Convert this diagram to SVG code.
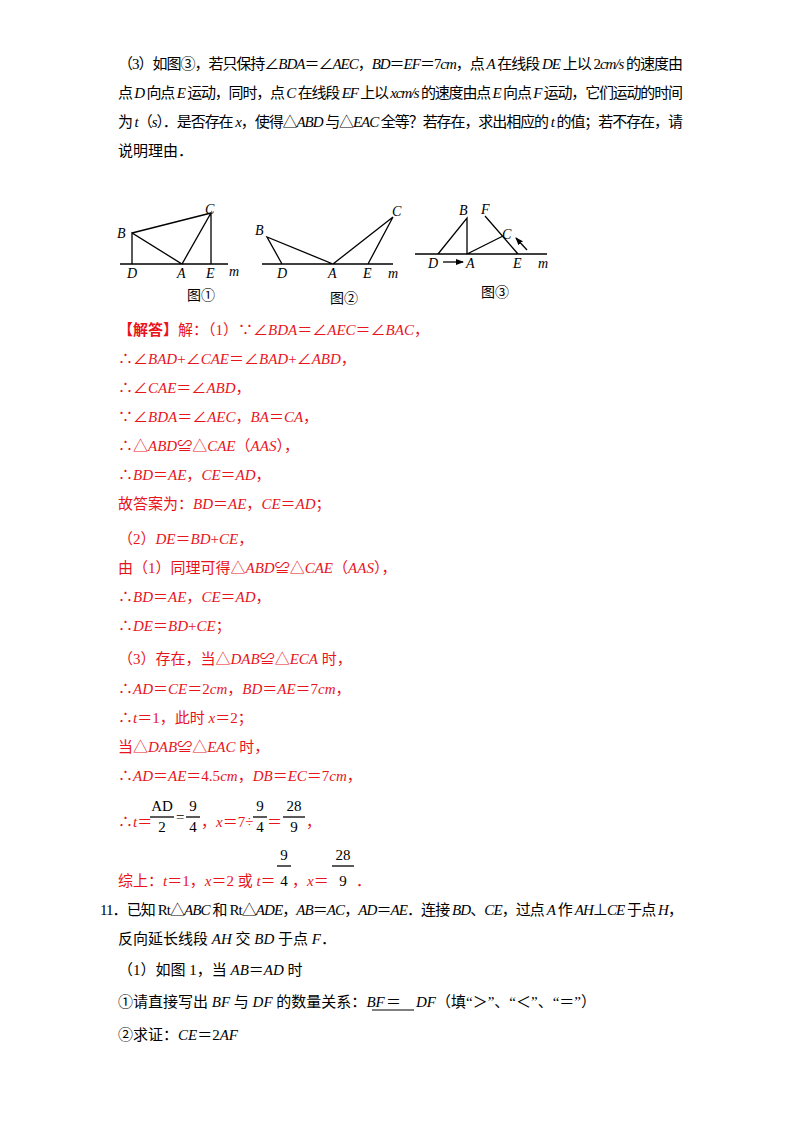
<svg xmlns="http://www.w3.org/2000/svg" width="800" height="1132" viewBox="0 0 800 1132">
<style>
text{font-family:"Liberation Serif","Noto Sans CJK SC",serif;font-size:15px;fill:#000}
.r{fill:#e8141c}
.i{font-style:italic}
.f{font-size:14px}
.l{font-size:14px;font-style:italic}
.ln{stroke:#000;stroke-width:1.3;fill:none}
.fb{stroke:#000;stroke-width:1.3}
</style>
<defs><marker id="ah" markerWidth="8" markerHeight="8" refX="7" refY="4" orient="auto" markerUnits="userSpaceOnUse"><path d="M0,1 L8,4 L0,7 z" fill="#000"/></marker></defs>
<rect width="800" height="1132" fill="#fff"/>
<g id="q3">
<text x="118" y="69" textLength="565" lengthAdjust="spacing">（3）如图③，若只保持∠<tspan class="i">BDA</tspan>＝∠<tspan class="i">AEC</tspan>，<tspan class="i">BD</tspan>＝<tspan class="i">EF</tspan>＝7<tspan class="i">cm</tspan>，点 <tspan class="i">A</tspan> 在线段 <tspan class="i">DE</tspan> 上以 2<tspan class="i">cm/s</tspan> 的速度由</text>
<text x="118" y="98" textLength="565" lengthAdjust="spacing">点 <tspan class="i">D</tspan> 向点 <tspan class="i">E</tspan> 运动，同时，点 <tspan class="i">C</tspan> 在线段 <tspan class="i">EF</tspan> 上以 <tspan class="i">xcm/s</tspan> 的速度由点 <tspan class="i">E</tspan> 向点 <tspan class="i">F</tspan> 运动，它们运动的时间</text>
<text x="118" y="127" textLength="565" lengthAdjust="spacing">为 <tspan class="i">t</tspan>（<tspan class="i">s</tspan>）．是否存在 <tspan class="i">x</tspan>，使得△<tspan class="i">ABD</tspan> 与△<tspan class="i">EAC</tspan> 全等？若存在，求出相应的 <tspan class="i">t</tspan> 的值；若不存在，请</text>
<text x="118" y="156">说明理由．</text>
</g>
<g id="fig1">
<path class="ln" d="M120,264H228 M132,264V233L182,264L211,213V264 M132,233L211,213"/>
<text class="l" x="205" y="214">C</text><text class="l" x="117" y="238">B</text>
<text class="l" x="127" y="278">D</text><text class="l" x="177" y="278">A</text><text class="l" x="206" y="278">E</text><text class="l" x="229" y="276">m</text>
<text class="f" x="187" y="300" fill="#555">图①</text>
</g>
<g id="fig2">
<path class="ln" d="M262,264H393 M282,264L267,237L333,264L393,217L368,264"/>
<text class="l" x="255" y="235">B</text><text class="l" x="392" y="216">C</text>
<text class="l" x="277" y="278">D</text><text class="l" x="328" y="278">A</text><text class="l" x="363" y="278">E</text><text class="l" x="388" y="278">m</text>
<text class="f" x="330" y="303" fill="#555">图②</text>
</g>
<g id="fig3">
<path class="ln" d="M415,254H547 M438,254L467,218V254L503,236 M485,216L518,254"/>
<path class="ln" d="M527,250L516,238" marker-end="url(#ah)"/>
<path class="ln" d="M443,262H463" marker-end="url(#ah)"/>
<text class="l" x="459" y="215">B</text><text class="l" x="481" y="214">F</text><text class="l" x="502" y="239">C</text>
<text class="l" x="428" y="268">D</text><text class="l" x="466" y="268">A</text><text class="l" x="513" y="268">E</text><text class="l" x="538" y="268">m</text>
<text class="f" x="481" y="297" fill="#555">图③</text>
</g>
<g id="answer">
<text class="r" x="118" y="335"><tspan font-weight="bold">【解答】</tspan>解：（1）∵∠<tspan class="i">BDA</tspan>＝∠<tspan class="i">AEC</tspan>＝∠<tspan class="i">BAC</tspan>，</text>
<text class="r" x="118" y="364">∴∠<tspan class="i">BAD</tspan>+∠<tspan class="i">CAE</tspan>＝∠<tspan class="i">BAD</tspan>+∠<tspan class="i">ABD</tspan>，</text>
<text class="r" x="118" y="393">∴∠<tspan class="i">CAE</tspan>＝∠<tspan class="i">ABD</tspan>，</text>
<text class="r" x="118" y="422">∵∠<tspan class="i">BDA</tspan>＝∠<tspan class="i">AEC</tspan>，<tspan class="i">BA</tspan>＝<tspan class="i">CA</tspan>，</text>
<text class="r" x="118" y="451">∴△<tspan class="i">ABD</tspan>≌△<tspan class="i">CAE</tspan>（<tspan class="i">AAS</tspan>），</text>
<text class="r" x="118" y="480">∴<tspan class="i">BD</tspan>＝<tspan class="i">AE</tspan>，<tspan class="i">CE</tspan>＝<tspan class="i">AD</tspan>，</text>
<text class="r" x="118" y="509">故答案为：<tspan class="i">BD</tspan>＝<tspan class="i">AE</tspan>，<tspan class="i">CE</tspan>＝<tspan class="i">AD</tspan>；</text>
<text class="r" x="118" y="544">（2）<tspan class="i">DE</tspan>＝<tspan class="i">BD</tspan>+<tspan class="i">CE</tspan>，</text>
<text class="r" x="118" y="573">由（1）同理可得△<tspan class="i">ABD</tspan>≌△<tspan class="i">CAE</tspan>（<tspan class="i">AAS</tspan>），</text>
<text class="r" x="118" y="602">∴<tspan class="i">BD</tspan>＝<tspan class="i">AE</tspan>，<tspan class="i">CE</tspan>＝<tspan class="i">AD</tspan>，</text>
<text class="r" x="118" y="631">∴<tspan class="i">DE</tspan>＝<tspan class="i">BD</tspan>+<tspan class="i">CE</tspan>；</text>
<text class="r" x="118" y="664">（3）存在，当△<tspan class="i">DAB</tspan>≌△<tspan class="i">ECA</tspan> 时，</text>
<text class="r" x="118" y="694">∴<tspan class="i">AD</tspan>＝<tspan class="i">CE</tspan>＝2<tspan class="i">cm</tspan>，<tspan class="i">BD</tspan>＝<tspan class="i">AE</tspan>＝7<tspan class="i">cm</tspan>，</text>
<text class="r" x="118" y="723">∴<tspan class="i">t</tspan>＝1，此时 <tspan class="i">x</tspan>＝2；</text>
<text class="r" x="118" y="752">当△<tspan class="i">DAB</tspan>≌△<tspan class="i">EAC</tspan> 时，</text>
<text class="r" x="118" y="781">∴<tspan class="i">AD</tspan>＝<tspan class="i">AE</tspan>＝4.5<tspan class="i">cm</tspan>，<tspan class="i">DB</tspan>＝<tspan class="i">EC</tspan>＝7<tspan class="i">cm</tspan>，</text>
<text class="r" x="118" y="827">∴<tspan class="i">t</tspan>＝</text>
<text x="162" y="811" text-anchor="middle">AD</text><line class="fb" x1="150" y1="817" x2="174" y2="817"/><text x="162" y="832" text-anchor="middle">2</text>
<text x="176" y="822" font-size="13">=</text>
<text x="193" y="811" text-anchor="middle">9</text><line class="fb" x1="186" y1="817" x2="200" y2="817"/><text x="193" y="832" text-anchor="middle">4</text>
<text class="r" x="201" y="827">，<tspan class="i">x</tspan>＝7÷</text>
<text x="260" y="811" text-anchor="middle">9</text><line class="fb" x1="253" y1="817" x2="267" y2="817"/><text x="260" y="832" text-anchor="middle">4</text>
<text class="r" x="267" y="827">＝</text>
<text x="294" y="811" text-anchor="middle">28</text><line class="fb" x1="283" y1="817" x2="305" y2="817"/><text x="294" y="832" text-anchor="middle">9</text>
<text class="r" x="306" y="827">，</text>
<text class="r" x="118" y="886">综上：<tspan class="i">t</tspan>＝1，<tspan class="i">x</tspan>＝2 或 <tspan class="i">t</tspan>＝</text>
<text x="284" y="860" text-anchor="middle">9</text><line class="fb" x1="277" y1="866" x2="291" y2="866"/><text x="284" y="886" text-anchor="middle">4</text>
<text class="r" x="292" y="886">，<tspan class="i">x</tspan>＝</text>
<text x="343" y="860" text-anchor="middle">28</text><line class="fb" x1="332" y1="866" x2="354" y2="866"/><text x="343" y="886" text-anchor="middle">9</text>
<text class="r" x="356" y="886">．</text>
</g>
<g id="q11">
<text x="100" y="915" textLength="583" lengthAdjust="spacing">11．已知 Rt△<tspan class="i">ABC</tspan> 和 Rt△<tspan class="i">ADE</tspan>，<tspan class="i">AB</tspan>＝<tspan class="i">AC</tspan>，<tspan class="i">AD</tspan>＝<tspan class="i">AE</tspan>．连接 <tspan class="i">BD</tspan>、<tspan class="i">CE</tspan>，过点 <tspan class="i">A</tspan> 作 <tspan class="i">AH</tspan>⊥<tspan class="i">CE</tspan> 于点 <tspan class="i">H</tspan>，</text>
<text x="118" y="944">反向延长线段 <tspan class="i">AH</tspan> 交 <tspan class="i">BD</tspan> 于点 <tspan class="i">F</tspan>．</text>
<text x="118" y="975">（1）如图 1，当 <tspan class="i">AB</tspan>＝<tspan class="i">AD</tspan> 时</text>
<text x="118" y="1007">①请直接写出 <tspan class="i">BF</tspan> 与 <tspan class="i">DF</tspan> 的数量关系：<tspan class="i">BF</tspan></text>
<line x1="372" y1="1010" x2="414" y2="1010" stroke="#000" stroke-width="1"/>
<text x="386" y="1007">＝</text>
<text x="416" y="1007"><tspan class="i">DF</tspan>（填“＞”、“＜”、“＝”）</text>
<text x="118" y="1040">②求证：<tspan class="i">CE</tspan>＝2<tspan class="i">AF</tspan></text>
</g>
</svg>
